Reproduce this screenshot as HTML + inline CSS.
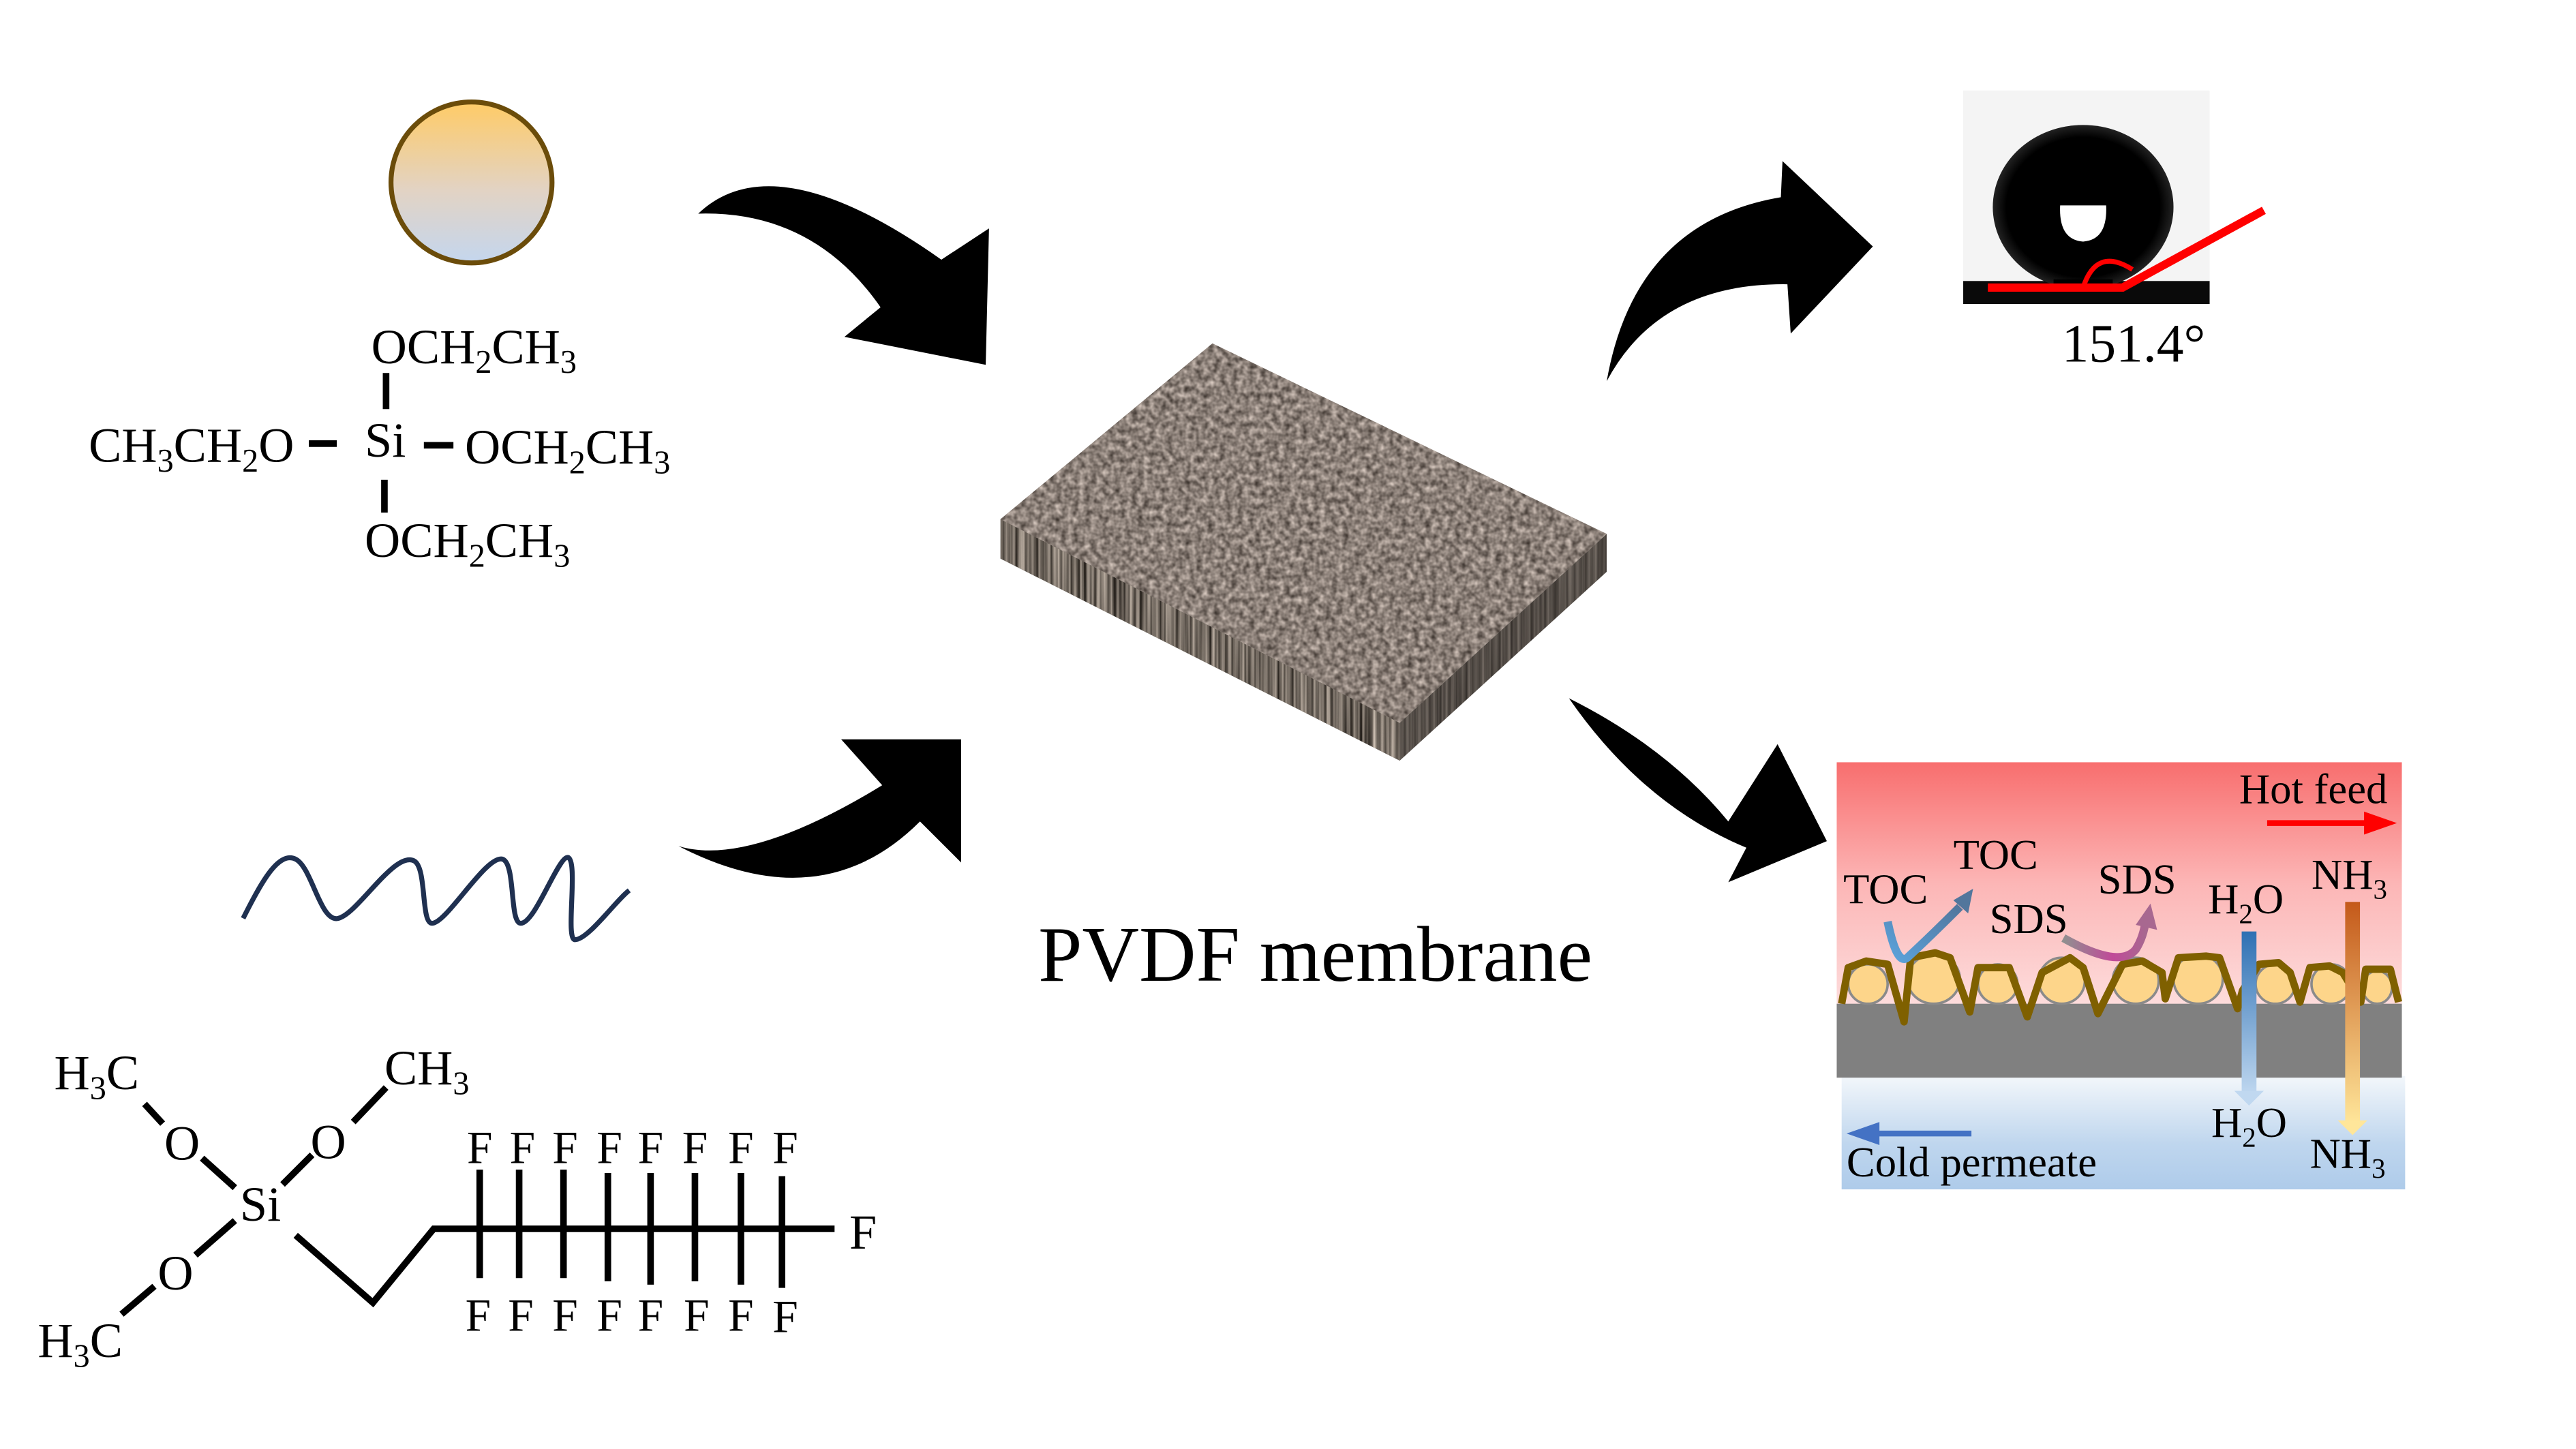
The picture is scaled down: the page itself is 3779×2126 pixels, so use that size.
<!DOCTYPE html>
<html><head><meta charset="utf-8"><style>
html,body{margin:0;padding:0;background:#fff}
svg{display:block}
text{font-family:"Liberation Serif",serif;fill:#000}
</style></head><body>
<svg width="3779" height="2126" viewBox="0 0 1568 882" xmlns="http://www.w3.org/2000/svg">
<defs>
<linearGradient id="cg" x1="0" y1="0" x2="0" y2="1"><stop offset="0" stop-color="#ffcb66"/><stop offset="0.55" stop-color="#e2d3c4"/><stop offset="1" stop-color="#c4d6ee"/></linearGradient>
<linearGradient id="red" x1="0" y1="0" x2="0" y2="1"><stop offset="0" stop-color="#f86e6e"/><stop offset="0.5" stop-color="#fcb6b6"/><stop offset="1" stop-color="#fddcdc"/></linearGradient>
<linearGradient id="blue" x1="0" y1="0" x2="0" y2="1"><stop offset="0" stop-color="#f3f7fb"/><stop offset="0.6" stop-color="#bfd6ee"/><stop offset="1" stop-color="#aecbea"/></linearGradient>
<linearGradient id="h2o" x1="0" y1="0" x2="0" y2="1"><stop offset="0" stop-color="#2e70b3"/><stop offset="1" stop-color="#c0d8f0"/></linearGradient>
<linearGradient id="nh3" x1="0" y1="0" x2="0" y2="1"><stop offset="0" stop-color="#c4591a"/><stop offset="1" stop-color="#ffe69a"/></linearGradient>
<linearGradient id="toc" x1="0" y1="1" x2="1" y2="0"><stop offset="0" stop-color="#5ba3dc"/><stop offset="1" stop-color="#52769c"/></linearGradient>
<linearGradient id="sds" x1="0" y1="0" x2="1" y2="0"><stop offset="0" stop-color="#909090"/><stop offset="0.6" stop-color="#c04a98"/><stop offset="1" stop-color="#a86890"/></linearGradient>
<filter id="tex" x="0" y="0" width="1" height="1" color-interpolation-filters="sRGB">
<feTurbulence type="fractalNoise" baseFrequency="0.28" numOctaves="2" seed="3" result="n"/>
<feColorMatrix in="n" type="matrix" values="0.75 0 0 0 0.17  0.72 0 0 0 0.14  0.7 0 0 0 0.12  0 0 0 0 1" result="c"/>
<feComposite in="c" in2="SourceAlpha" operator="in"/>
</filter>
<filter id="side" x="0" y="0" width="1" height="1" color-interpolation-filters="sRGB">
<feTurbulence type="fractalNoise" baseFrequency="0.5 0.005" numOctaves="2" seed="5" result="n"/>
<feColorMatrix in="n" type="matrix" values="1.0 0 0 0 -0.05  0.95 0 0 0 -0.06  0.9 0 0 0 -0.07  0 0 0 0 1" result="c"/>
<feComposite in="c" in2="SourceAlpha" operator="in"/>
</filter>
<radialGradient id="drop" cx="0.5" cy="0.5" r="0.5"><stop offset="0.85" stop-color="#000"/><stop offset="1" stop-color="#222"/></radialGradient>
</defs>

<circle cx="287" cy="111" r="49" fill="url(#cg)" stroke="#6b4c0a" stroke-width="3"/>

<g font-size="30">
<text x="226" y="221">OCH<tspan font-size="20" dy="6">2</tspan><tspan dy="-6">CH</tspan><tspan font-size="20" dy="6">3</tspan></text>
<text x="54" y="281">CH<tspan font-size="20" dy="6">3</tspan><tspan dy="-6">CH</tspan><tspan font-size="20" dy="6">2</tspan><tspan dy="-6">O</tspan></text>
<text x="222" y="278">Si</text>
<text x="283" y="282">OCH<tspan font-size="20" dy="6">2</tspan><tspan dy="-6">CH</tspan><tspan font-size="20" dy="6">3</tspan></text>
<text x="222" y="339">OCH<tspan font-size="20" dy="6">2</tspan><tspan dy="-6">CH</tspan><tspan font-size="20" dy="6">3</tspan></text>
</g>
<g stroke="#000" stroke-width="4">
<line x1="235" y1="227" x2="235" y2="249"/>
<line x1="234" y1="292" x2="234" y2="312"/>
<line x1="188" y1="270" x2="205" y2="270"/>
<line x1="258" y1="271" x2="276" y2="271"/>
</g>

<path d="M425,130 Q471,86 573,158 L602,139 L600,222 L514,205 L536,187 Q495,128 425,130 Z" fill="#000"/>
<path d="M413,515 Q455,528 537,478 L512,450 L585,450 L585,525 L560,500 Q500,560 413,515 Z" fill="#000"/>
<path d="M978,232 Q995,135 1084,120 L1085,98 L1140,150 L1090,203 L1088,173 Q1010,172 978,232 Z" fill="#000"/>
<path d="M955,425 Q1015,455 1052,500 L1082,453 L1112,512 L1052,537 L1063,516 Q1000,490 955,425 Z" fill="#000"/>

<path d="M148,559 C160,535 170,518 180,523 C190,528 195,562 206,559 C218,556 240,518 252,524 C260,528 256,562 263,562 C272,562 296,520 306,523 C314,526 310,562 317,562 C326,562 340,520 346,522 C352,526 344,572 350,572 C358,572 375,548 383,542" fill="none" stroke="#1f3050" stroke-width="3"/>

<g font-size="30">
<text x="33" y="663">H<tspan font-size="20" dy="6">3</tspan><tspan dy="-6">C</tspan></text>
<text x="234" y="660">CH<tspan font-size="20" dy="6">3</tspan></text>
<text x="100" y="706">O</text>
<text x="189" y="705">O</text>
<text x="146" y="743">Si</text>
<text x="96" y="785">O</text>
<text x="23" y="826">H<tspan font-size="20" dy="6">3</tspan><tspan dy="-6">C</tspan></text>
<text x="517" y="760">F</text>
</g>
<g stroke="#000" stroke-width="4" fill="none">
<line x1="88" y1="672" x2="99" y2="684"/>
<line x1="123" y1="705" x2="143" y2="723"/>
<line x1="215" y1="683" x2="235" y2="662"/>
<line x1="172" y1="721" x2="190" y2="703"/>
<line x1="143" y1="743" x2="119" y2="764"/>
<line x1="94" y1="783" x2="74" y2="800"/>
<polyline points="180,752 227,793 264,748 508,748"/>
<g>
<line x1="292" y1="712" x2="292" y2="778"/><line x1="316" y1="712" x2="316" y2="778"/>
<line x1="343" y1="712" x2="343" y2="778"/><line x1="370" y1="714" x2="370" y2="780"/>
<line x1="396" y1="714" x2="396" y2="782"/><line x1="423" y1="714" x2="423" y2="780"/>
<line x1="451" y1="714" x2="451" y2="782"/><line x1="476" y1="716" x2="476" y2="784"/>
</g>
</g>
<g font-size="28" text-anchor="middle">
<text x="292" y="708">F</text><text x="318" y="708">F</text><text x="344" y="708">F</text><text x="371" y="708">F</text><text x="396" y="708">F</text><text x="423" y="708">F</text><text x="451" y="708">F</text><text x="478" y="708">F</text>
<text x="291" y="810">F</text><text x="317" y="810">F</text><text x="344" y="810">F</text><text x="371" y="810">F</text><text x="396" y="810">F</text><text x="424" y="810">F</text><text x="451" y="810">F</text><text x="478" y="811">F</text>
</g>

<polygon points="609,316 852,440 852,463 609,340" fill="#6d645c"/>
<polygon points="609,316 852,440 852,463 609,340" filter="url(#side)"/>
<polygon points="852,440 978,325 978,348 852,463" fill="#3a3532"/>
<polygon points="852,440 978,325 978,348 852,463" filter="url(#side)" opacity="0.45"/>
<polygon points="609,316 738,209 978,325 852,440" fill="#857b72"/>
<polygon points="609,316 738,209 978,325 852,440" filter="url(#tex)"/>
<text x="632" y="597" font-size="48">PVDF membrane</text>

<rect x="1195" y="55" width="150" height="130" fill="#f4f4f4"/>
<rect x="1195" y="171" width="150" height="14" fill="#0a0a0a"/>
<ellipse cx="1268" cy="126" rx="55" ry="50" fill="url(#drop)"/>
<rect x="1250" y="170" width="36" height="4" fill="#000"/>
<path d="M1254,125 L1282,125 Q1283,146 1268,147 Q1253,146 1254,125 Z" fill="#fff"/>
<path d="M1210,175 L1292,175 L1378,128" fill="none" stroke="#f00" stroke-width="5"/>
<path d="M1268,175 Q1276,150 1298,164" fill="none" stroke="#f00" stroke-width="3"/>
<text x="1255" y="220" font-size="33">151.4°</text>

<rect x="1118" y="464" width="344" height="148" fill="url(#red)"/>
<rect x="1121" y="655" width="343" height="69" fill="url(#blue)"/>
<rect x="1118" y="611" width="344" height="45" fill="#808080"/>
<g fill="#fdd58a" stroke="#8a8a8a" stroke-width="1.5">
<ellipse cx="1137" cy="599" rx="12" ry="12"/>
<ellipse cx="1177" cy="596" rx="16" ry="15"/>
<ellipse cx="1216" cy="599" rx="12" ry="12"/>
<ellipse cx="1255" cy="597" rx="14" ry="14"/>
<ellipse cx="1300" cy="597" rx="14" ry="14"/>
<ellipse cx="1338" cy="596" rx="15" ry="15"/>
<ellipse cx="1385" cy="599" rx="12" ry="12"/>
<ellipse cx="1419" cy="599" rx="12" ry="12"/>
<ellipse cx="1447" cy="601" rx="9" ry="10"/>
</g>
<polyline fill="none" stroke="#7f6000" stroke-width="4.5" stroke-linejoin="round" points="1121,611 1125,589 1136,585 1149,587 1159,622 1163,583 1178,580 1187,583 1199,616 1204,589 1223,589 1234,619 1243,592 1260,583 1268,589 1277,617 1292,587 1304,585 1316,592 1318,608 1326,583 1343,582 1351,583 1362,614 1365,603 1375,587 1387,586 1394,592 1400,610 1406,589 1418,588 1426,592 1437,610 1440,590 1455,590 1460,610"/>
<g font-size="26">
<text x="1363" y="489">Hot feed</text>
<text x="1122" y="550">TOC</text>
<text x="1189" y="529">TOC</text>
<text x="1211" y="568">SDS</text>
<text x="1277" y="544">SDS</text>
<text x="1344" y="556">H<tspan font-size="17" dy="6">2</tspan><tspan dy="-6">O</tspan></text>
<text x="1407" y="541">NH<tspan font-size="17" dy="6">3</tspan></text>
<text x="1346" y="692">H<tspan font-size="17" dy="6">2</tspan><tspan dy="-6">O</tspan></text>
<text x="1406" y="711">NH<tspan font-size="17" dy="6">3</tspan></text>
<text x="1124" y="716">Cold permeate</text>
</g>
<line x1="1380" y1="501" x2="1442" y2="501" stroke="#f00" stroke-width="3.5"/>
<polygon points="1439,494 1459,501 1439,508" fill="#f00"/>
<line x1="1140" y1="690" x2="1200" y2="690" stroke="#4472c4" stroke-width="3.5"/>
<polygon points="1144,683 1124,690 1144,697" fill="#4472c4"/>
<rect x="1364.5" y="567" width="9" height="100" fill="url(#h2o)"/>
<polygon points="1360,664 1378,664 1369,673" fill="#c0d8f0"/>
<rect x="1427.5" y="549" width="9" height="135" fill="url(#nh3)"/>
<polygon points="1423,682 1441,682 1432,691" fill="#ffe69a"/>
<path d="M1149,561 Q1155,590 1162,582 Q1175,570 1193,552" fill="none" stroke="url(#toc)" stroke-width="5"/>
<polygon points="1189,548 1201,541 1198,556" fill="#52769c"/>
<path d="M1256,571 Q1290,590 1300,578 Q1305,570 1306,560" fill="none" stroke="url(#sds)" stroke-width="5"/>
<polygon points="1300,563 1309,550 1313,566" fill="#a86890"/>
</svg>
</body></html>
